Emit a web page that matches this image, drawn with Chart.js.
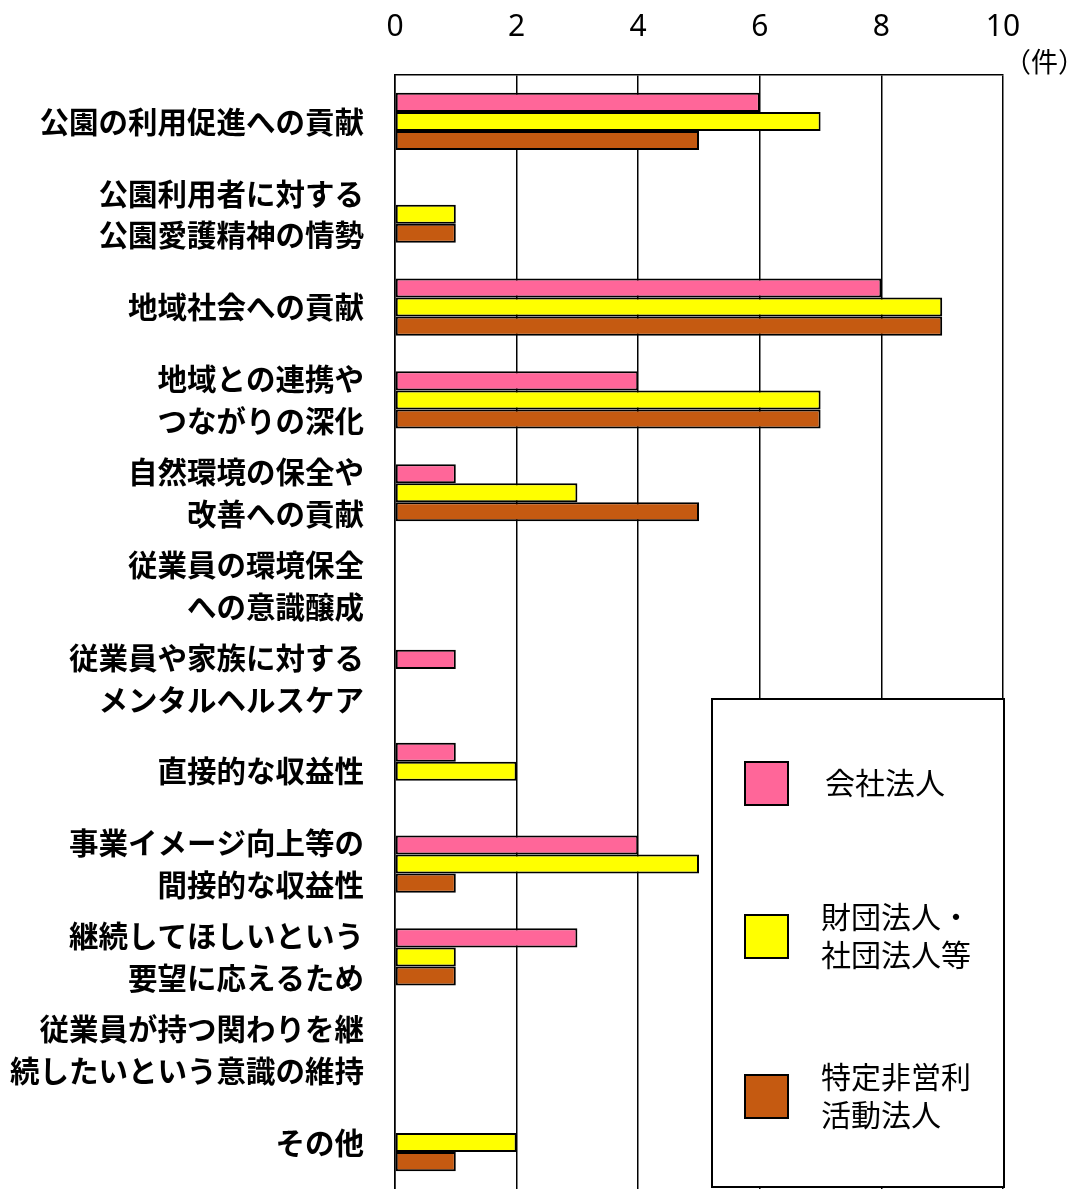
<!DOCTYPE html>
<html>
<head>
<meta charset="utf-8">
<script src="https://cdn.jsdelivr.net/npm/chart.js@4"></script>
<style>
  html, body { margin: 0; padding: 0; background: #fff; }
  #wrap { width: 1085px; height: 1189px; }
</style>
</head>
<body>
<div id="wrap"><canvas id="canvas" width="1085" height="1189"></canvas></div>
<script>
const categories = [
  ['公園の利用促進への貢献'],
  ['公園利用者に対する', '公園愛護精神の情勢'],
  ['地域社会への貢献'],
  ['地域との連携や', 'つながりの深化'],
  ['自然環境の保全や', '改善への貢献'],
  ['従業員の環境保全', 'への意識醸成'],
  ['従業員や家族に対する', 'メンタルヘルスケア'],
  ['直接的な収益性'],
  ['事業イメージ向上等の', '間接的な収益性'],
  ['継続してほしいという', '要望に応えるため'],
  ['従業員が持つ関わりを継', '続したいという意識の維持'],
  ['その他']
]
const companyValues    = [6, 0, 8, 4, 1, 0, 1, 1, 4, 3, 0, 0]
const foundationValues = [7, 1, 9, 7, 3, 0, 0, 2, 5, 1, 0, 2]
const npoValues        = [5, 1, 9, 7, 5, 0, 0, 0, 1, 1, 0, 1]
const seriesNames = [['会社法人'], ['財団法人・', '社団法人等'], ['特定非営利', '活動法人']]
const xTicks = [0, 2, 4, 6, 8, 10]
const unitLabel = '（件）'

const colors = ['#FF6699', '#FFFF00', '#C55A11']
const jpFont = '"Noto Sans CJK JP", "Noto Sans", sans-serif'

// legend box drawn inside the plot, lower right
const boxLegend = {
  id: 'boxLegend',
  afterDraw(chart) {
    const ctx = chart.ctx
    const area = chart.chartArea
    const x0 = area.right - 291, y0 = 699, w = 292, h = 488
    ctx.save()
    ctx.fillStyle = '#fff'
    ctx.fillRect(x0, y0, w, h)
    ctx.strokeStyle = '#000'
    ctx.lineWidth = 2
    ctx.strokeRect(x0, y0, w, h)
    const centers = [783, 936, 1096]
    ctx.font = '30px ' + jpFont
    ctx.textBaseline = 'middle'
    chart.data.datasets.forEach((ds, i) => {
      const cy = centers[i]
      ctx.fillStyle = ds.backgroundColor
      ctx.fillRect(x0 + 33, cy - 21, 43, 43)
      ctx.lineWidth = 2
      ctx.strokeRect(x0 + 33, cy - 21, 43, 43)
      ctx.fillStyle = '#000'
      const lines = seriesNames[i]
      lines.forEach((t, j) => {
        const ly = cy + (j - (lines.length - 1) / 2) * 38
        ctx.fillText(t, x0 + (lines.length > 1 ? 109 : 113), ly)
      })
    })
    // unit label
    ctx.font = '27px ' + jpFont
    ctx.textAlign = 'right'
    ctx.fillText(unitLabel, 1085, 62)
    ctx.restore()
  }
}

const ctx = document.getElementById('canvas')
new Chart(ctx, {
  type: 'bar',
  data: {
    labels: categories,
    datasets: [
      { label: '会社法人', data: companyValues },
      { label: '財団法人・社団法人等', data: foundationValues },
      { label: '特定非営利活動法人', data: npoValues }
    ].map((d, i) => ({
      ...d,
      backgroundColor: colors[i],
      borderColor: '#000',
      borderWidth: 2,
      borderSkipped: false,
      barPercentage: 1,
      categoryPercentage: 0.615
    }))
  },
  options: {
    indexAxis: 'y',
    responsive: false,
    animation: false,
    layout: { padding: { left: 0, right: 82, top: 0, bottom: 0 } },
    plugins: { legend: { display: false }, tooltip: { enabled: false } },
    scales: {
      x: {
        position: 'top',
        min: 0,
        max: 10,
        afterBuildTicks: axis => { axis.ticks = xTicks.map(v => ({ value: v })) },
        afterFit: axis => { axis.height = 75; axis.paddingLeft = 0; axis.paddingRight = 0 },
        grid: { color: '#000', lineWidth: 1.5, drawTicks: false },
        border: { color: '#000', width: 1.5 },
        ticks: {
          color: '#000',
          padding: 30,
          font: { family: '"Noto Sans", sans-serif', size: 30 }
        }
      },
      y: {
        afterFit: axis => { axis.width = 395; axis.paddingTop = 0; axis.paddingBottom = 0 },
        grid: { display: false, drawTicks: false },
        border: { color: '#000', width: 1.5 },
        ticks: {
          color: '#000',
          padding: 31,
          font: { family: jpFont, size: 29.5, weight: 'bold', lineHeight: 1.42 }
        }
      }
    }
  },
  plugins: [boxLegend]
})
</script>
</body>
</html>
